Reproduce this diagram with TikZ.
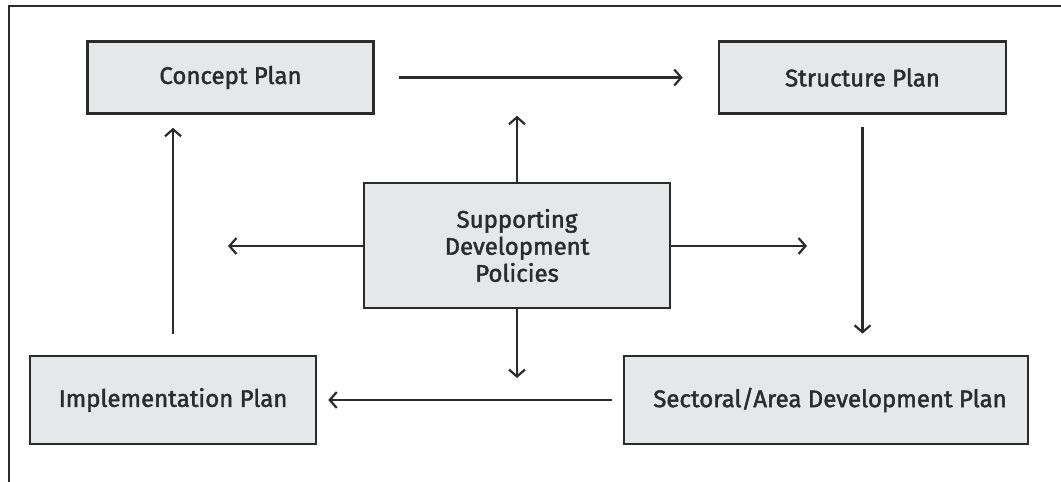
\documentclass[tikz,border=0pt]{standalone}
\usepackage{fontspec}
\setmainfont{Fira Sans}
\newfontfamily\planfont{Fira Sans}[FakeBold=1.8]
\usetikzlibrary{arrows.meta,calc}

\definecolor{boxgray}{HTML}{E6E7E9}
\definecolor{linegray}{HTML}{2B2B2B}

\tikzset{
  planbox/.style={rectangle,draw=linegray,line width=2.6pt,fill=boxgray,
    inner sep=0pt,align=center,font=\planfont\fontsize{24}{28}\selectfont,text=linegray},
  flow/.style={draw=linegray,line width=2.2pt,-{Straight Barb[length=7pt,width=16pt,line width=2.2pt]}}
}

\begin{document}
\begin{tikzpicture}[x=1pt,y=-1pt]
  \useasboundingbox (0,0) rectangle (1061,482);
  % open frame, left and top only
  \draw[linegray,line width=2.6pt] (9,482) -- (9,6) -- (1061,6);

  \node[planbox,minimum width=286pt,minimum height=72pt] (concept) at (230.5,77.5) {Concept Plan};
  \node[planbox,minimum width=287pt,minimum height=72pt] (structure) at (862.5,77.5) {Structure Plan};
  \node[planbox,minimum width=306pt,minimum height=125pt,text width=290pt,
        font=\planfont\fontsize{24}{27}\selectfont] (policies) at (517,245.5) {Supporting\\Development\\Policies};
  \node[planbox,minimum width=286pt,minimum height=88pt] (impl) at (173,400) {Implementation Plan};
  \node[planbox,minimum width=404pt,minimum height=88pt] (sectoral) at (826,400) {\hspace*{8pt}Sectoral/Area Development Plan};

  % free ends of the policy arrows
  \coordinate (pleft) at (228,246);
  \coordinate (pright) at (807,246);
  \coordinate (pdown) at (517,378);

  % the cycle
  \draw[flow,shorten <=24pt,shorten >=35pt] (concept.east) -- (structure.west);
  \draw[flow,shorten <=12pt,shorten >=21pt] (structure.south) -- (structure.south |- sectoral.north);
  \draw[flow,shorten <=11pt,shorten >=11pt] (sectoral.west) -- (impl.east);
  \draw[flow,shorten <=21pt,shorten >=13pt] (impl.north) -- (impl.north |- concept.south);

  % policies outwards
  \draw[flow,shorten >=1pt] (policies.north) -- (policies.north |- concept.south);
  \draw[flow] (policies.west |- pleft) -- (pleft);
  \draw[flow] (policies.east |- pright) -- (pright);
  \draw[flow] (policies.south) -- (pdown);
\end{tikzpicture}
\end{document}
